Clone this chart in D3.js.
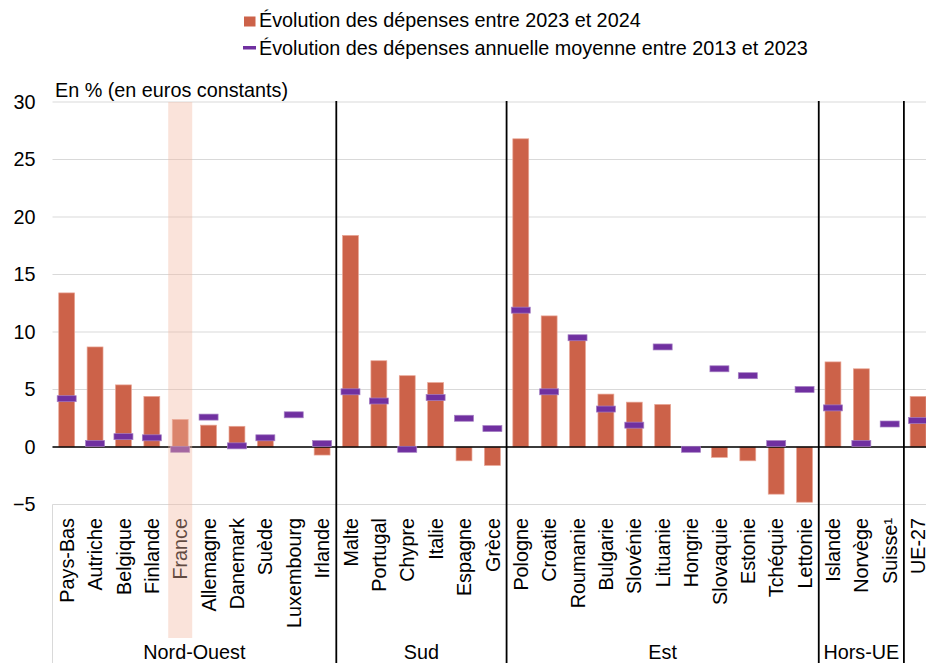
<!DOCTYPE html>
<html lang="fr">
<head>
<meta charset="utf-8">
<script src="https://cdn.jsdelivr.net/npm/d3@7"></script>
<style>
  body { margin: 0; background: #fff; }
  svg { display: block; font-family: "Liberation Sans", Arial, sans-serif; }
</style>
</head>
<body>
<div class="chart"></div>
<script>
'use strict';

// Data
var countries = ['Pays-Bas', 'Autriche', 'Belgique', 'Finlande', 'France', 'Allemagne', 'Danemark', 'Suède', 'Luxembourg', 'Irlande',
  'Malte', 'Portugal', 'Chypre', 'Italie', 'Espagne', 'Grèce',
  'Pologne', 'Croatie', 'Roumanie', 'Bulgarie', 'Slovénie', 'Lituanie', 'Hongrie', 'Slovaquie', 'Estonie', 'Tchéquie', 'Lettonie',
  'Islande', 'Norvège', 'Suisse¹',
  'UE-27'];
var evol2024 = [13.4, 8.7, 5.4, 4.4, 2.4, 1.9, 1.8, 0.7, null, -0.7,
  18.4, 7.5, 6.2, 5.6, -1.2, -1.6,
  26.8, 11.4, 9.4, 4.6, 3.9, 3.7, null, -0.9, -1.2, -4.1, -4.8,
  7.4, 6.8, null,
  4.4];
var evolMoyenne = [4.2, 0.3, 0.9, 0.8, -0.2, 2.6, 0.1, 0.8, 2.8, 0.3,
  4.8, 4.0, -0.2, 4.3, 2.5, 1.6,
  11.9, 4.8, 9.5, 3.3, 1.9, 8.7, -0.2, 6.8, 6.2, 0.3, 5.0,
  3.4, 0.3, 2.0,
  2.3];
var groupNames = ['Nord-Ouest', 'Sud', 'Est', 'Hors-UE', ''];
var groupSizes = [10, 6, 11, 3, 1];
var yTicks = [-5, 0, 5, 10, 15, 20, 25, 30];
var highlighted = 'France';

(function() {
  // Sizes
  var w = 926;
  var h = 663;
  var left = 52.5;
  var step = 28.38;
  var top = 102;
  var bottom = 504.5;
  var labelTop = 518;
  var fontSize = 19.8;

  var BAR = '#cc6249';
  var MARK = '#7030a0';

  var svg = d3.select('.chart')
    .append('svg')
    .attr('width', w)
    .attr('height', h);

  // Scales
  var x = d3.scaleBand()
    .domain(countries)
    .range([left, left + step * countries.length])
    .paddingInner(0.44)
    .paddingOuter(0.22);

  var y = d3.scaleLinear()
    .domain([-5, 30])
    .range([bottom, top]);

  var center = function(name) { return x(name) + x.bandwidth() / 2; };

  // Grid
  svg.append('g')
    .selectAll('line')
    .data(yTicks)
    .enter()
    .append('line')
    .attr('x1', left)
    .attr('x2', w)
    .attr('y1', function(d) { return y(d); })
    .attr('y2', function(d) { return y(d); })
    .attr('stroke', '#d9d9d9')
    .attr('stroke-width', 1.2);

  // light frame of the category area
  svg.append('line')
    .attr('x1', left).attr('x2', left)
    .attr('y1', bottom).attr('y2', h)
    .attr('stroke', '#d9d9d9');

  // Y axis
  var yAxis = d3.axisLeft(y)
    .tickValues(yTicks)
    .tickSize(0)
    .tickPadding(17);

  svg.append('g')
    .attr('transform', 'translate(' + left + ',0)')
    .call(yAxis)
    .call(function(g) { g.select('.domain').remove(); })
    .selectAll('text')
    .attr('font-size', fontSize)
    .attr('font-family', '"Liberation Sans", Arial, sans-serif')
    .attr('fill', '#000');

  // Unit
  svg.append('text')
    .attr('x', 55)
    .attr('y', 97)
    .attr('font-size', fontSize)
    .text('En % (en euros constants)');

  // Bars
  var barData = countries.map(function(c, i) { return {name: c, value: evol2024[i]}; })
    .filter(function(d) { return d.value !== null; });

  svg.append('g')
    .selectAll('rect')
    .data(barData)
    .enter()
    .append('rect')
    .attr('x', function(d) { return x(d.name); })
    .attr('y', function(d) { return y(Math.max(0, d.value)); })
    .attr('width', x.bandwidth())
    .attr('height', function(d) { return Math.abs(y(d.value) - y(0)); })
    .attr('fill', BAR)
    .attr('stroke', '#e8a595')
    .attr('stroke-width', 0.7);

  // Zero line
  svg.append('line')
    .attr('x1', left)
    .attr('x2', w)
    .attr('y1', y(0))
    .attr('y2', y(0))
    .attr('stroke', '#000')
    .attr('stroke-width', 1.6);

  // Average markers
  svg.append('g')
    .selectAll('rect')
    .data(countries.map(function(c, i) { return {name: c, value: evolMoyenne[i]}; }))
    .enter()
    .append('rect')
    .attr('x', function(d) { return center(d.name) - 9.5; })
    .attr('y', function(d) { return y(d.value) - 3; })
    .attr('width', 19)
    .attr('height', 6)
    .attr('fill', MARK)
    .attr('stroke', '#a57fc4')
    .attr('stroke-width', 0.7);

  // Country labels
  svg.append('g')
    .selectAll('text')
    .data(countries)
    .enter()
    .append('text')
    .attr('transform', function(d) { return 'translate(' + center(d) + ',' + labelTop + ') rotate(-90)'; })
    .attr('text-anchor', 'end')
    .attr('dy', '0.36em')
    .attr('font-size', fontSize)
    .text(function(d) { return d; });

  // Highlight France
  svg.append('rect')
    .attr('x', center(highlighted) - 12)
    .attr('y', top)
    .attr('width', 24)
    .attr('height', 638 - top)
    .attr('fill', 'rgb(243,185,163)')
    .attr('opacity', 0.4);

  // Group separators and labels
  var start = 0;
  groupSizes.forEach(function(size, i) {
    var first = countries[start];
    var last = countries[start + size - 1];
    var x0 = center(first) - step / 2;
    var x1 = center(last) + step / 2;
    if (i > 0) {
      svg.append('line')
        .attr('x1', x0).attr('x2', x0)
        .attr('y1', top - 1).attr('y2', h)
        .attr('stroke', '#000')
        .attr('stroke-width', 1.8);
    }
    if (groupNames[i]) {
      svg.append('text')
        .attr('x', (x0 + x1) / 2)
        .attr('y', 659)
        .attr('text-anchor', 'middle')
        .attr('font-size', fontSize)
        .text(groupNames[i]);
    }
    start += size;
  });

  // Legend
  var legend = svg.append('g').attr('font-size', fontSize);
  legend.append('rect')
    .attr('x', 244).attr('y', 16.5)
    .attr('width', 11.5).attr('height', 10)
    .attr('fill', BAR);
  legend.append('text')
    .attr('x', 259).attr('y', 27)
    .text('Évolution des dépenses entre 2023 et 2024');
  legend.append('rect')
    .attr('x', 243).attr('y', 46)
    .attr('width', 13).attr('height', 3.5)
    .attr('fill', MARK);
  legend.append('text')
    .attr('x', 259).attr('y', 54.5)
    .text('Évolution des dépenses annuelle moyenne entre 2013 et 2023');
})();
</script>
</body>
</html>
